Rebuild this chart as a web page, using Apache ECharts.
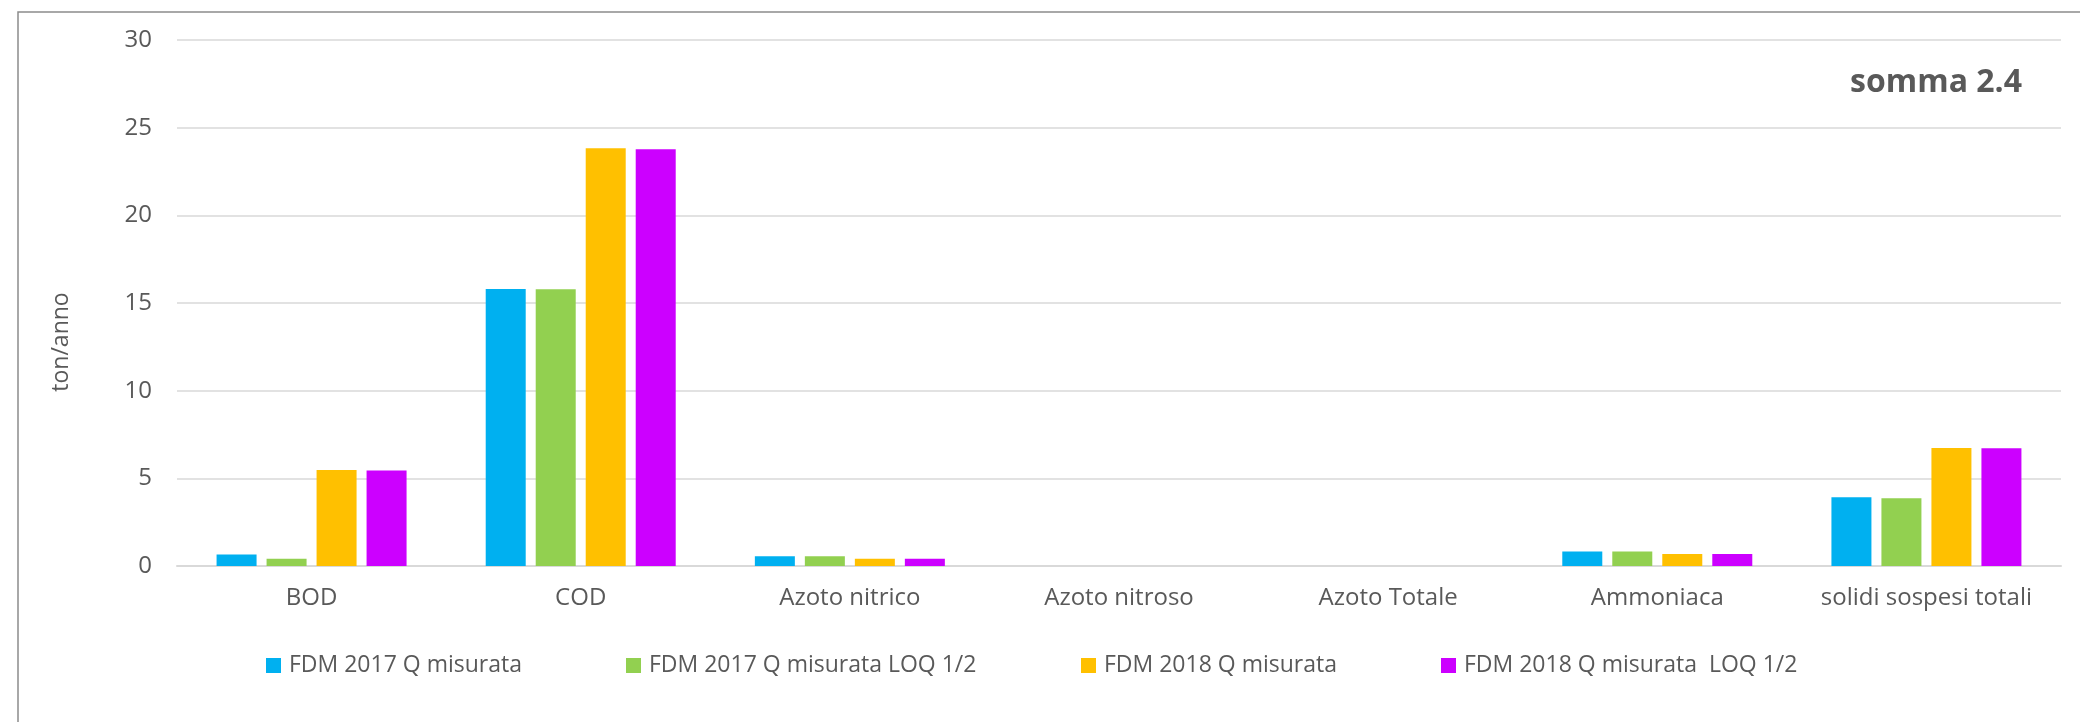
<!DOCTYPE html>
<html>
<head>
<meta charset="utf-8">
<script src="https://cdn.jsdelivr.net/npm/echarts@6/dist/echarts.min.js"></script>
<style>
	html, body { margin: 0; padding: 0; background: #fff; }
	#chart { width: 2080px; height: 722px; }
</style>
</head>
<body>
<div id="chart"></div>
<script>
var categories = ['BOD', 'COD', 'Azoto nitrico', 'Azoto nitroso', 'Azoto Totale', 'Ammoniaca', 'solidi sospesi totali'];
var seriesNames = ['FDM 2017 Q misurata', 'FDM 2017 Q misurata LOQ 1/2', 'FDM 2018 Q misurata', 'FDM 2018 Q misurata  LOQ 1/2'];
var fdm2017 = [0.66, 15.80, 0.55, 0, 0, 0.82, 3.92];
var fdm2017Loq = [0.42, 15.78, 0.55, 0, 0, 0.82, 3.87];
var fdm2018 = [5.47, 23.82, 0.42, 0, 0, 0.68, 6.73];
var fdm2018Loq = [5.44, 23.77, 0.42, 0, 0, 0.68, 6.71];
var yTicks = [0, 5, 10, 15, 20, 25, 30];
var colorList = ['#00B0F0', '#92D050', '#FFC000', '#CC00FF'];

var chart = echarts.init(document.getElementById('chart'));
var textColor = '#595959';
var fontFam = '"Open Sans", sans-serif';
var allData = [fdm2017, fdm2017Loq, fdm2018, fdm2018Loq];
var legendLeft = [266, 626, 1081, 1441];

var series = [];
var legends = [];
for (var i = 0; i < seriesNames.length; i++) {
	series.push({
		name: seriesNames[i],
		type: 'bar',
		data: allData[i],
		barWidth: 40,
		barGap: '25%',
		itemStyle: { color: colorList[i] }
	});
	legends.push({
		data: [seriesNames[i]],
		left: legendLeft[i],
		top: 654,
		itemWidth: 15,
		itemHeight: 15,
		itemGap: 0,
		icon: 'rect',
		textStyle: { color: textColor, fontSize: 23, fontFamily: fontFam, padding: [0, 0, 0, 3] },
		padding: 0
	});
}

var option = {
	animation: false,
	color: colorList,
	legend: legends,
	grid: { left: 177, right: 19, top: 40, bottom: 156, containLabel: false },
	xAxis: {
		type: 'category',
		data: categories,
		axisLine: { lineStyle: { color: '#d9d9d9', width: 2 } },
		axisTick: { show: false },
		axisLabel: { color: textColor, fontSize: 24, fontFamily: fontFam, margin: 20, interval: 0 }
	},
	yAxis: {
		type: 'value',
		min: yTicks[0],
		max: yTicks[yTicks.length - 1],
		interval: 5,
		axisLine: { show: false },
		axisTick: { show: false },
		axisLabel: { color: textColor, fontSize: 24, fontFamily: fontFam, margin: 25 },
		splitLine: { lineStyle: { color: '#d9d9d9', width: 1.5 } }
	},
	graphic: [
		{
			type: 'rect',
			shape: { x: 18, y: 12, width: 2200, height: 900 },
			style: { fill: 'none', stroke: '#8c8c8c', lineWidth: 1.5 },
			silent: true
		},
		{
			type: 'text',
			x: 61, y: 342,
			rotation: Math.PI / 2,
			style: { text: 'ton/anno', fill: textColor, fontSize: 23, fontFamily: fontFam, align: 'center', verticalAlign: 'middle' }
		},
		{
			type: 'text',
			x: 2022, y: 83,
			style: { text: 'somma 2.4', fill: textColor, fontSize: 32, fontWeight: 'bold', fontFamily: fontFam, align: 'right', verticalAlign: 'middle' }
		}
	],
	series: series
};
chart.setOption(option);
</script>
</body>
</html>
